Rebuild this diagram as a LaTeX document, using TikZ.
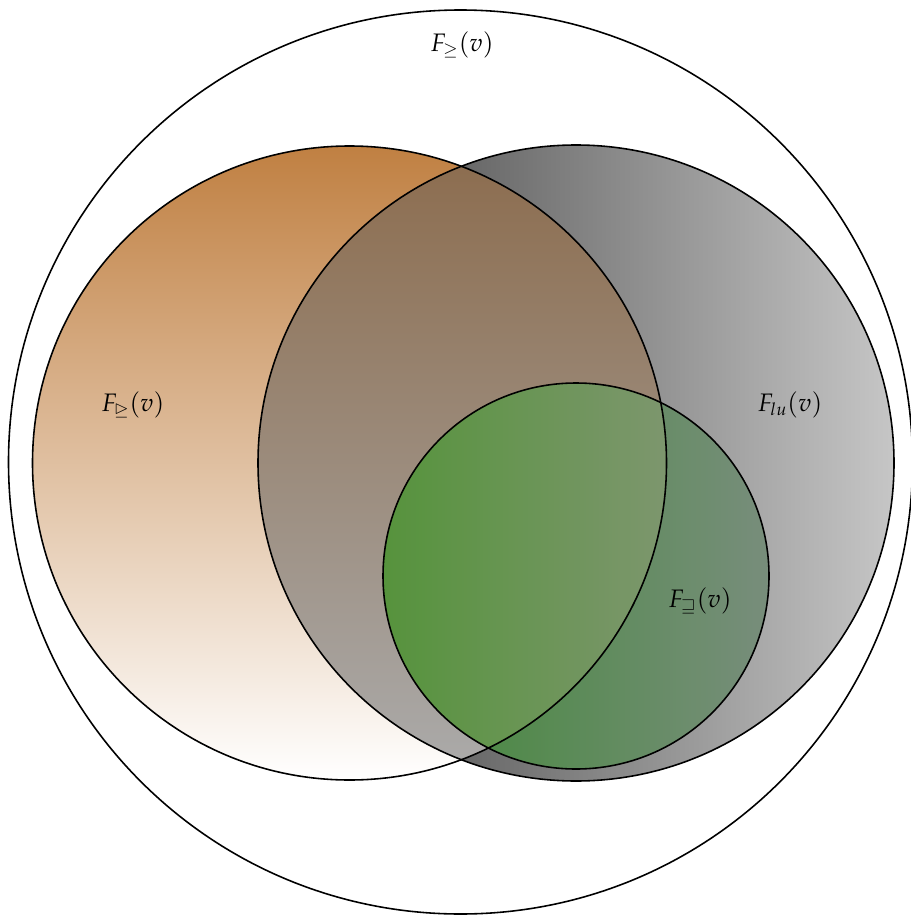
\documentclass[tikz,border=0pt]{standalone}
\usepackage{amssymb}
\usepackage{mathpazo}
\usepackage{tikz}
\usetikzlibrary{positioning}
\usepackage{xcolor}
\definecolor{Copper}{RGB}{192,128,66}
\definecolor{DarkGrey}{RGB}{60,60,60}
\definecolor{LightGrey}{RGB}{198,198,198}
\definecolor{Leaf}{RGB}{72,150,60}
\definecolor{Sage}{RGB}{132,156,136}

\begin{document}
\begin{tikzpicture}[x=0.02cm,y=-0.02cm,font=\Large,
    setline/.style={draw=black,line width=0.9pt}]
    \useasboundingbox (0,0) rectangle (910,916);
    % outer set
    \draw[setline] (460.5,462) circle (452);
    % grey and copper sets
    \shade[left color=DarkGrey,right color=LightGrey] (576,463) circle (318);
    \shade[top color=Copper,bottom color=white] (349.5,463) circle (317);
    \begin{scope}
      \clip (349.5,463) circle (317);
      \fill[black!65,opacity=0.5] (576,463) circle (318);
    \end{scope}
    % green set
    \begin{scope}
      \clip (576,576) circle (193);
      \shade[left color=Leaf,right color=Sage] (576,576) circle (193);
      \fill[black,opacity=0.09,even odd rule] (576,576) circle (193) (349.5,463) circle (317);
      \fill[Copper,opacity=0.12] (349.5,463) circle (317);
    \end{scope}
    % outlines
    \draw[setline] (349.5,463) circle (317);
    \draw[setline] (576,463) circle (318);
    \draw[setline] (576,576) circle (193);
    % labels
    \node (ge) at (462,45) {$F_{\geq}(v)$};
    \node (tri) at (133,405) {$F_{\trianglerighteq}(v)$};
    \node (lu) at (790,405) {$F_{lu}(v)$};
    \node (sq) at (700,601) {$F_{\sqsupseteq}(v)$};
  \end{tikzpicture}
\end{document}
